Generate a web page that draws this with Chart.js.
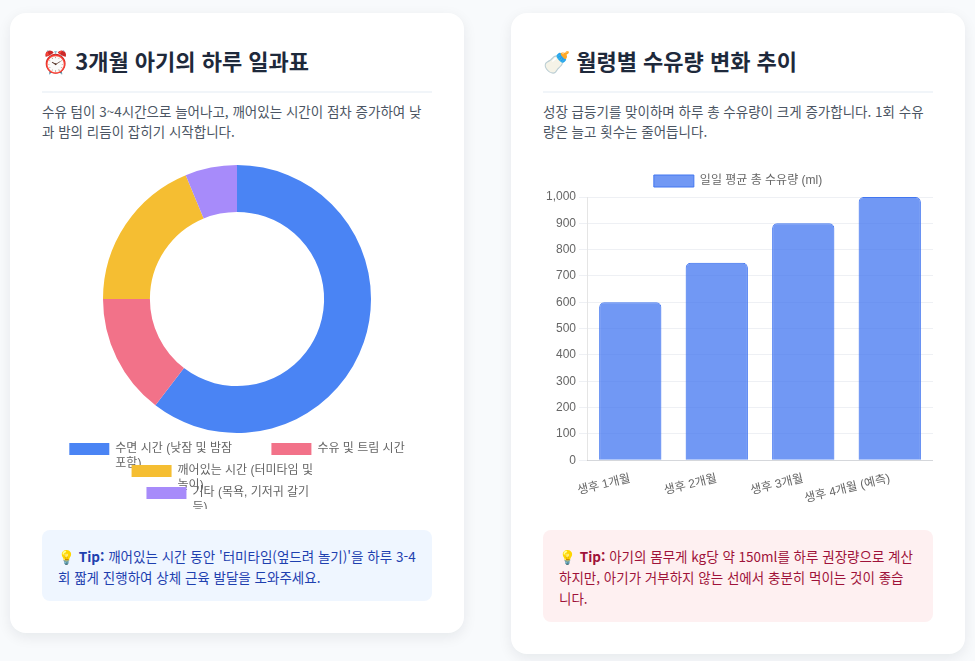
<!DOCTYPE html>
<html lang="ko">
<head>
<meta charset="UTF-8">
<title>3개월 아기 성장 리포트</title>
<script src="https://cdn.jsdelivr.net/npm/chart.js@4.4.1/dist/chart.umd.min.js"></script>
<style>
  body {
    margin: 0;
    background: #f8fafc;
    font-family: 'Noto Sans CJK KR', 'Noto Sans', sans-serif;
  }
  .grid {
    display: grid;
    grid-template-columns: 1fr 1fr;
    gap: 47px;
    padding: 13px 10px;
    align-items: start;
  }
  .card {
    background: #fff;
    border-radius: 16px;
    padding: 32px 32px 32px 32px;
    box-shadow: 0 4px 14px rgba(15, 23, 42, 0.08);
  }
  .card h2 {
    margin: 0;
    font-size: 22px;
    line-height: 30px;
    font-weight: 700;
    color: #1e293b;
    padding-bottom: 16px;
    border-bottom: 2px solid #f1f5f9;
  }
  .card p.desc {
    margin: 8px 0 24px;
    font-size: 13.5px;
    line-height: 20px;
    color: #4b5563;
  }
  .chart-box {
    position: relative;
    height: 344px;
  }
  .tip {
    margin-top: 21px;
    border-radius: 8px;
    padding: 16px 16px 13px 16px;
    font-size: 13.5px;
    line-height: 21px;
  }
  .tip.blue { background: #eff6ff; color: #1e40af; }
  .tip.red { background: #fef0f1; color: #9f1239; padding-right: 20px; }
  .tip b { font-weight: 700; }
</style>
</head>
<body>
<div class="grid">
  <div class="card">
    <h2>⏰ 3개월 아기의 하루 일과표</h2>
    <p class="desc">수유 텀이 3~4시간으로 늘어나고, 깨어있는 시간이 점차 증가하여 낮과 밤의 리듬이 잡히기 시작합니다.</p>
    <div class="chart-box"><canvas id="routineChart"></canvas></div>
    <div class="tip blue">💡 <b>Tip:</b> 깨어있는 시간 동안 '터미타임(엎드려 놀기)'을 하루 3-4회 짧게 진행하여 상체 근육 발달을 도와주세요.</div>
  </div>
  <div class="card">
    <h2>🍼 월령별 수유량 변화 추이</h2>
    <p class="desc">성장 급등기를 맞이하며 하루 총 수유량이 크게 증가합니다. 1회 수유량은 늘고 횟수는 줄어듭니다.</p>
    <div class="chart-box"><canvas id="feedingChart"></canvas></div>
    <div class="tip red">💡 <b>Tip:</b> 아기의 몸무게 kg당 약 150ml를 하루 권장량으로 계산하지만, 아기가 거부하지 않는 선에서 충분히 먹이는 것이 좋습니다.</div>
  </div>
</div>

<script>
// 하루 일과 (시간 단위)
const routineLabels = [
  ['수면 시간 (낮잠 및 밤잠', '포함)'],
  '수유 및 트림 시간',
  ['깨어있는 시간 (터미타임 및', '놀이)'],
  ['기타 (목욕, 기저귀 갈기', '등)']
];
const routineHours = [14.5, 3.5, 4.5, 1.5];
const routineColors = ['#4a84f4', '#f27289', '#f5be32', '#a78bfa'];

// 월령별 수유량
const feedingLabels = ['생후 1개월', '생후 2개월', '생후 3개월', '생후 4개월 (예측)'];
const feedingAmounts = [600, 750, 900, 1000];

Chart.defaults.color = '#666';
Chart.defaults.font.family = "'Helvetica Neue', Helvetica, Arial, 'Noto Sans CJK KR', sans-serif";

new Chart(document.getElementById('routineChart'), {
  type: 'doughnut',
  data: {
    labels: routineLabels,
    datasets: [{
      data: routineHours,
      backgroundColor: routineColors,
      borderWidth: 0
    }]
  },
  options: {
    responsive: true,
    maintainAspectRatio: false,
    cutout: '65%',
    animation: false,
    plugins: {
      legend: {
        position: 'bottom'
      }
    }
  }
});

new Chart(document.getElementById('feedingChart'), {
  type: 'bar',
  data: {
    labels: feedingLabels,
    datasets: [{
      label: '일일 평균 총 수유량 (ml)',
      data: feedingAmounts,
      backgroundColor: 'rgba(66, 118, 240, 0.75)',
      borderColor: 'rgba(66, 118, 240, 1)',
      borderWidth: 1,
      borderRadius: 5
    }]
  },
  options: {
    responsive: true,
    maintainAspectRatio: false,
    animation: false,
    plugins: {
      legend: { position: 'top' }
    },
    scales: {
      y: {
        beginAtZero: true,
        grid: { color: '#eef0f4' }
      },
      x: {
        grid: { display: false }
      }
    }
  }
});
</script>
</body>
</html>
